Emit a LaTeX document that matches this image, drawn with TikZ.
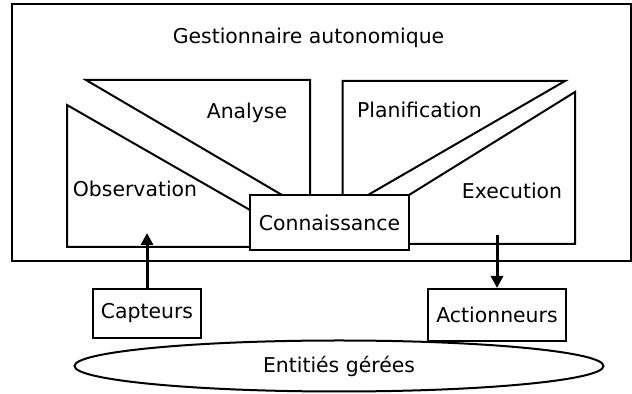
\documentclass[tikz,border=0pt]{standalone}
\usepackage{fontspec}
\setmainfont{DejaVu Sans}
\usetikzlibrary{shapes.geometric,arrows.meta}
\begin{document}
\begin{tikzpicture}[x=0.5pt,y=-0.5pt,
  every node/.style={font=\fontsize{10.2}{12}\selectfont},
  shapeline/.style={line width=1pt,line join=miter},
  box/.style={draw,line width=1pt,fill=white,inner sep=0pt},
  flow/.style={line width=1.5pt,-{Triangle[length=6pt,width=6pt]}}]
\useasboundingbox (0,0) rectangle (632,394);
% outer frame
\draw[shapeline] (12,4) rectangle (631,261);
\node (title) at (308.5,38) {Gestionnaire autonomique};
% Observation
\draw[shapeline] (250,210) -- (67,105) -- (67,247) -- (250,247);
\node (obs) at (135,189) {Observation};
% Analyse
\draw[shapeline] (282,195) -- (86,80) -- (310,80) -- (310,195);
\node (ana) at (247,113) {Analyse};
% Planification
\draw[shapeline] (342.7,195) -- (342.7,81) -- (565,81) -- (368,195);
\node (plan) at (419.5,110) {Planification};
% Execution
\draw[shapeline] (409,195) -- (575,92) -- (575,244) -- (409,244);
\node (exec) at (512,190.5) {Execution};
% Connaissance
\node[box,minimum width=79.5pt,minimum height=27.5pt] (conn) at (329.5,222.5) {Connaissance};
% Capteurs / Actionneurs
\node[box,minimum width=54pt,minimum height=24.5pt] (capt) at (147,313.5) {Capteurs};
\node[box,minimum width=69pt,minimum height=26pt] (act) at (497,315) {Actionneurs};
% Entities
\node[box,ellipse,minimum width=264.5pt,minimum height=25.5pt] (ent) at (339,366) {Entitiés gérées};
% arrows
\coordinate (obsin) at (147,233);
\coordinate (execin) at (497,235);
\draw[flow] (capt.north) -- (obsin);
\draw[flow] (execin) -- (act.north);
\end{tikzpicture}
\end{document}
